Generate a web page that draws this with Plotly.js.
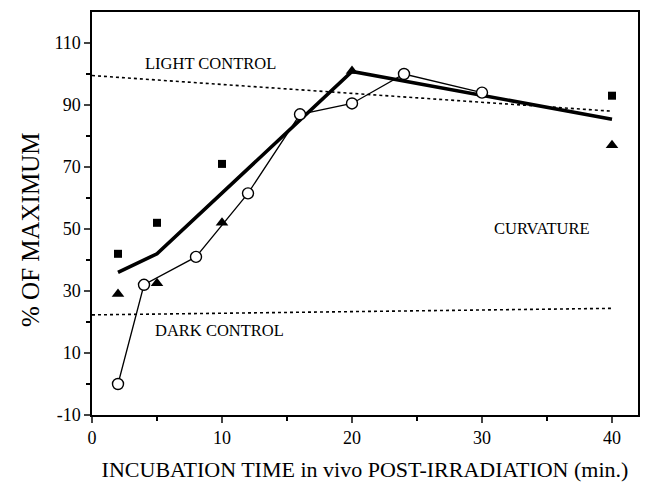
<!DOCTYPE html>
<html>
<head>
<meta charset="utf-8">
<script src="https://cdn.plot.ly/plotly-3.0.1.min.js"></script>
<style>html,body{margin:0;padding:0;background:#fff;}#chart{width:652px;height:485px;}</style>
</head>
<body>
<div id="chart"></div>
<script>
// Open circles (connected thin line)
const circleX = [2, 4, 8, 12, 16, 20, 24, 30];
const circleY = [0, 32, 41, 61.5, 87, 90.5, 100, 94];
// Filled triangles
const triX = [2, 5, 10, 20, 40];
const triY = [29, 32.5, 52, 101, 77];
// Filled squares
const sqX = [2, 5, 10, 40];
const sqY = [42, 52, 71, 93];
// Thick curvature fit line
const fitX = [2, 5, 20, 40];
const fitY = [36, 42, 100.8, 85.4];
// Controls (dotted)
const lightX = [0, 40];
const lightY = [99.5, 88];
const darkX = [0, 40];
const darkY = [22.3, 24.4];
// Tick labels
const xTickVals = [0, 10, 20, 30, 40];
const xTickText = ["0", "10", "20", "30", "40"];
const yTickVals = [-10, 10, 30, 50, 70, 90, 110];
const yTickText = ["-10", "10", "30", "50", "70", "90", "110"];
// Annotations
const labelText = ["LIGHT CONTROL", "DARK CONTROL", "CURVATURE"];
const labelX = [9.1, 9.8, 34.6];
const labelY = [103.4, 17.4, 50.2];

const FONT = "Liberation Serif, Times New Roman, serif";

const traces = [
  {x: lightX, y: lightY, mode: "lines", line: {color: "#000", width: 1.6, dash: "dot"}, hoverinfo: "skip"},
  {x: darkX, y: darkY, mode: "lines", line: {color: "#000", width: 1.6, dash: "dot"}, hoverinfo: "skip"},
  {x: fitX, y: fitY, mode: "lines", line: {color: "#000", width: 3.6}},
  {x: circleX, y: circleY, mode: "lines+markers", line: {color: "#000", width: 1.3},
   marker: {symbol: "circle", size: 11, color: "#fff", line: {color: "#000", width: 1.4}}},
  {x: triX, y: triY, mode: "markers", marker: {symbol: "triangle-up", size: 11, color: "#000"}},
  {x: sqX, y: sqY, mode: "markers", marker: {symbol: "square", size: 8, color: "#000"}}
];

const annotations = labelText.map((t, i) => ({
  x: labelX[i], y: labelY[i], xref: "x", yref: "y", text: t, showarrow: false,
  font: {family: FONT, size: 16.5, color: "#000"}
}));
annotations.push({
  x: -0.1136, y: 0.459, xref: "paper", yref: "paper", text: "% OF MAXIMUM", textangle: -90,
  showarrow: false, xanchor: "center", yanchor: "middle",
  font: {family: FONT, size: 25, color: "#000"}
});

const layout = {
  width: 652, height: 485,
  margin: {l: 92, r: 14, t: 12, b: 70},
  paper_bgcolor: "#fff", plot_bgcolor: "#fff",
  showlegend: false,
  font: {family: FONT, color: "#000", size: 17},
  xaxis: {
    range: [0, 42], tickvals: xTickVals, ticktext: xTickText, ticks: "outside", ticklen: 6, tickwidth: 1.2,
    minor: {tickvals: [5, 15, 25, 35], ticks: "outside", ticklen: 4, tickwidth: 1.2, tickcolor: "#000"},
    showline: true, linecolor: "#000", linewidth: 1.6, mirror: true, showgrid: false, zeroline: false,
    tickfont: {family: FONT, size: 18, color: "#000"},
    title: {text: "INCUBATION TIME in vivo POST-IRRADIATION (min.)", font: {family: FONT, size: 22, color: "#000"}, standoff: 14}
  },
  yaxis: {
    range: [-10, 120], tickvals: yTickVals, ticktext: yTickText, ticks: "outside", ticklen: 6, tickwidth: 1.2,
    minor: {tickvals: [0, 20, 40, 60, 80, 100], ticks: "outside", ticklen: 4, tickwidth: 1.2, tickcolor: "#000"},
    showline: true, linecolor: "#000", linewidth: 1.6, mirror: true, showgrid: false, zeroline: false,
    tickfont: {family: FONT, size: 18, color: "#000"}
  },
  annotations: annotations
};

Plotly.newPlot("chart", traces, layout, {displayModeBar: false, staticPlot: true});
</script>
</body>
</html>
